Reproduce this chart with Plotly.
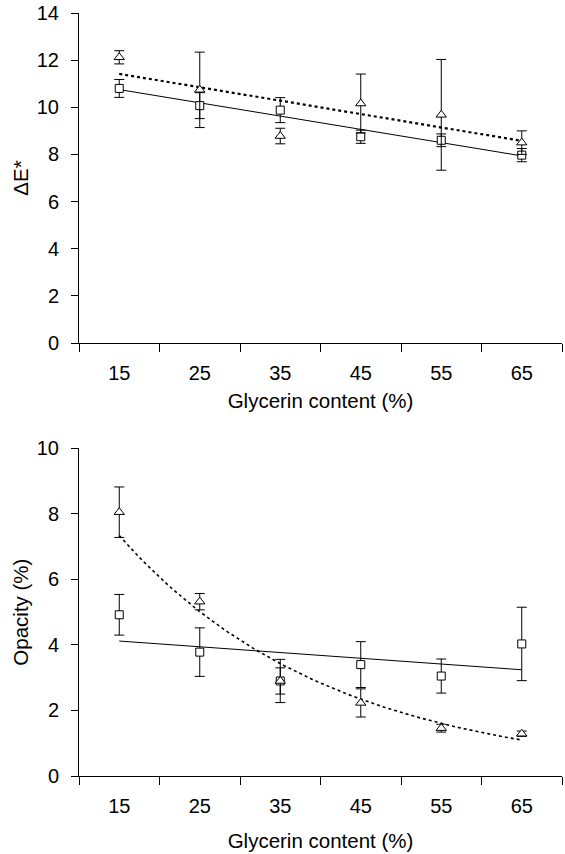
import numpy as np
import plotly.graph_objects as go

# ---------------- data ----------------
glycerin = [15, 25, 35, 45, 55, 65]
x_tick_labels = ["15", "25", "35", "45", "55", "65"]
x_boundaries = [10, 20, 30, 40, 50, 60, 70]

de_square = [10.80, 10.07, 9.88, 8.75, 8.60, 7.97]
de_square_err = [0.38, 0.55, 0.53, 0.28, 0.27, 0.28]
de_triangle = [12.12, 10.74, 8.78, 10.16, 9.68, 8.50]
de_triangle_err = [0.28, 1.60, 0.33, 1.25, 2.35, 0.50]

op_square = [4.92, 3.78, 2.90, 3.40, 3.05, 4.03]
op_square_err = [0.62, 0.74, 0.66, 0.70, 0.52, 1.12]
op_triangle = [8.05, 5.32, 2.90, 2.23, 1.46, 1.29]
op_triangle_err = [0.77, 0.25, 0.40, 0.43, 0.12, 0.08]

FONT = "Liberation Sans, Arial, sans-serif"

xg = np.array(glycerin, dtype=float)
xfit = np.linspace(15, 65, 101)

# least-squares trendlines (as in the original spreadsheet chart)
def linfit(y):
    b, a = np.polyfit(xg, np.array(y), 1)
    return a + b * xfit

def expfit(y):
    b, a = np.polyfit(xg, np.log(np.array(y)), 1)
    return np.exp(a + b * xfit)

fig = go.Figure()

def add_series(y, err, symbol, xa, ya, size):
    fig.add_trace(go.Scatter(
        x=glycerin, y=y, mode="markers",
        marker=dict(symbol=symbol, size=size, color="white",
                    line=dict(color="black", width=1)),
        error_y=dict(type="data", array=err, color="black", thickness=1, width=5),
        xaxis=xa, yaxis=ya, showlegend=False, hoverinfo="skip"))

def add_line(y, dash, width, xa, ya):
    fig.add_trace(go.Scatter(
        x=xfit, y=y, mode="lines",
        line=dict(color="black", width=width, dash=dash),
        xaxis=xa, yaxis=ya, showlegend=False, hoverinfo="skip"))

# top panel
add_line(linfit(de_square), "solid", 1, "x", "y")
add_line(linfit(de_triangle), "dot", 2.2, "x", "y")
add_series(de_square, de_square_err, "square", "x", "y", 8)
add_series(de_triangle, de_triangle_err, "triangle-up", "x", "y", 9)

# bottom panel
add_line(linfit(op_square), "solid", 1, "x2", "y2")
add_line(expfit(op_triangle), "dot", 1.6, "x2", "y2")
add_series(op_square, op_square_err, "square", "x2", "y2", 8)
add_series(op_triangle, op_triangle_err, "triangle-up", "x2", "y2", 9)

TICKFONT = dict(family=FONT, size=20, color="black")
TITLEFONT = dict(family=FONT, size=20.5, color="black")

def xaxis_cfg(anchor, standoff):
    return dict(
        range=[10, 70], tickmode="array", tickvals=glycerin, ticktext=x_tick_labels,
        ticks="", showline=True, linecolor="black", linewidth=1, showgrid=False,
        zeroline=False, ticklabelstandoff=12, tickfont=TICKFONT,
        ticklabeloverflow="allow",
        minor=dict(tickmode="array", tickvals=x_boundaries, ticks="outside",
                   ticklen=8, tickcolor="black", tickwidth=1, showgrid=False),
        anchor=anchor, domain=[0, 1],
        title=dict(text="Glycerin content (%)", standoff=standoff, font=TITLEFONT),
    )

def yaxis_cfg(anchor, rng, domain, title):
    return dict(
        range=rng, ticks="outside", ticklen=7, tickcolor="black", tickwidth=1, dtick=2,
        showline=True, linecolor="black", linewidth=1, showgrid=False,
        zeroline=False, ticklabelstandoff=8, tickfont=TICKFONT,
        ticklabeloverflow="allow",
        anchor=anchor, domain=domain,
        title=dict(text=title, standoff=2, font=TITLEFONT),
    )

fig.update_layout(
    width=565, height=854,
    margin=dict(l=79, r=3, t=13, b=78, autoexpand=False),
    paper_bgcolor="white", plot_bgcolor="white",
    font=dict(family=FONT, color="black"),
    xaxis=xaxis_cfg("y", 10),
    yaxis=yaxis_cfg("x", [0, 14], [0.5675, 1], "ΔE*"),
    xaxis2=xaxis_cfg("y2", 17),
    yaxis2=yaxis_cfg("x2", [0, 10], [0, 0.4295], "Opacity (%)"),
)

fig.write_html(
    "out.html",
    config={"displayModeBar": False},
    post_script="document.body.style.margin='0';document.body.style.overflow='hidden';",
)
